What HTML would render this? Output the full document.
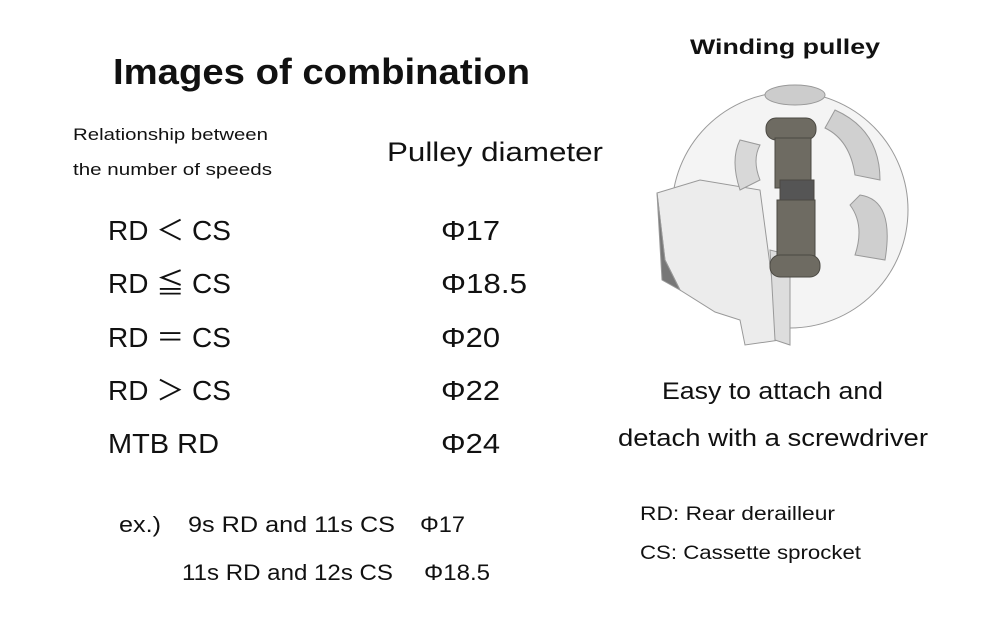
<!DOCTYPE html>
<html><head><meta charset="utf-8"><style>
html,body{margin:0;padding:0;background:#fff;width:1000px;height:630px;overflow:hidden}
svg text{font-family:"Liberation Sans","Noto Sans CJK JP",sans-serif;fill:#111}
</style></head><body>
<svg width="1000" height="630" viewBox="0 0 1000 630" xmlns="http://www.w3.org/2000/svg">
<g lengthAdjust="spacingAndGlyphs">
<text x="113" y="84" font-size="36" font-weight="bold" textLength="417" lengthAdjust="spacingAndGlyphs">Images of combination</text>
<text x="690" y="54" font-size="21" font-weight="bold" textLength="190" lengthAdjust="spacingAndGlyphs">Winding pulley</text>
<text x="73" y="140" font-size="17" textLength="195" lengthAdjust="spacingAndGlyphs">Relationship between</text>
<text x="73" y="175" font-size="17" textLength="199" lengthAdjust="spacingAndGlyphs">the number of speeds</text>
<text x="387" y="161" font-size="27" textLength="216" lengthAdjust="spacingAndGlyphs">Pulley diameter</text>
</g>
<g font-size="28">
<text x="108" y="240">RD ＜ CS</text>
<text x="108" y="293">RD ≦ CS</text>
<text x="108" y="347">RD ＝ CS</text>
<text x="108" y="400">RD ＞ CS</text>
<text x="108" y="453" textLength="111" lengthAdjust="spacingAndGlyphs">MTB RD</text>
<text x="441" y="240" textLength="59" lengthAdjust="spacingAndGlyphs">Φ17</text>
<text x="441" y="293" textLength="86" lengthAdjust="spacingAndGlyphs">Φ18.5</text>
<text x="441" y="347" textLength="59" lengthAdjust="spacingAndGlyphs">Φ20</text>
<text x="441" y="400" textLength="59" lengthAdjust="spacingAndGlyphs">Φ22</text>
<text x="441" y="453" textLength="59" lengthAdjust="spacingAndGlyphs">Φ24</text>
</g>
<g font-size="22">
<text x="119" y="532" textLength="42" lengthAdjust="spacingAndGlyphs">ex.)</text>
<text x="188" y="532" textLength="207" lengthAdjust="spacingAndGlyphs">9s RD and 11s CS</text>
<text x="420" y="532" textLength="45" lengthAdjust="spacingAndGlyphs">Φ17</text>
<text x="182" y="580" textLength="211" lengthAdjust="spacingAndGlyphs">11s RD and 12s CS</text>
<text x="424" y="580" textLength="66" lengthAdjust="spacingAndGlyphs">Φ18.5</text>
</g>
<text x="662" y="399" font-size="24" textLength="221" lengthAdjust="spacingAndGlyphs">Easy to attach and</text>
<text x="618" y="446" font-size="24" textLength="310" lengthAdjust="spacingAndGlyphs">detach with a screwdriver</text>
<text x="640" y="520" font-size="19" textLength="195" lengthAdjust="spacingAndGlyphs">RD: Rear derailleur</text>
<text x="640" y="559" font-size="19" textLength="221" lengthAdjust="spacingAndGlyphs">CS: Cassette sprocket</text>
<!-- pulley -->
<g stroke="#999" stroke-width="1" fill="#f1f1f1">
<circle cx="790" cy="210" r="118" fill="#f4f4f4"/>
<path d="M657 193 L700 180 L760 190 L780 340 L745 345 L740 320 L715 312 L680 290 L665 260 Z" fill="#ececec"/>
<path d="M657 193 L662 280 L680 290 L665 260 Z" fill="#777"/>
<ellipse cx="795" cy="95" rx="30" ry="10" fill="#ccc"/>
<path d="M835 110 Q880 130 880 180 L855 175 Q850 140 825 128 Z" fill="#d0d0d0"/>
<path d="M860 195 Q895 200 885 260 L855 255 Q865 225 850 205 Z" fill="#cfcfcf"/>
<path d="M740 140 Q730 160 740 190 L760 180 Q752 160 760 145 Z" fill="#d8d8d8"/>
<path d="M770 250 L775 340 L790 345 L790 255 Z" fill="#ddd"/>
</g>
<g fill="#6e6b62" stroke="#4a4842">
<rect x="766" y="118" width="50" height="22" rx="10"/>
<rect x="775" y="138" width="36" height="50"/>
<rect x="780" y="180" width="34" height="55" fill="#555"/>
<rect x="777" y="200" width="38" height="60"/>
<rect x="770" y="255" width="50" height="22" rx="10"/>
</g>
</svg>
</body></html>
